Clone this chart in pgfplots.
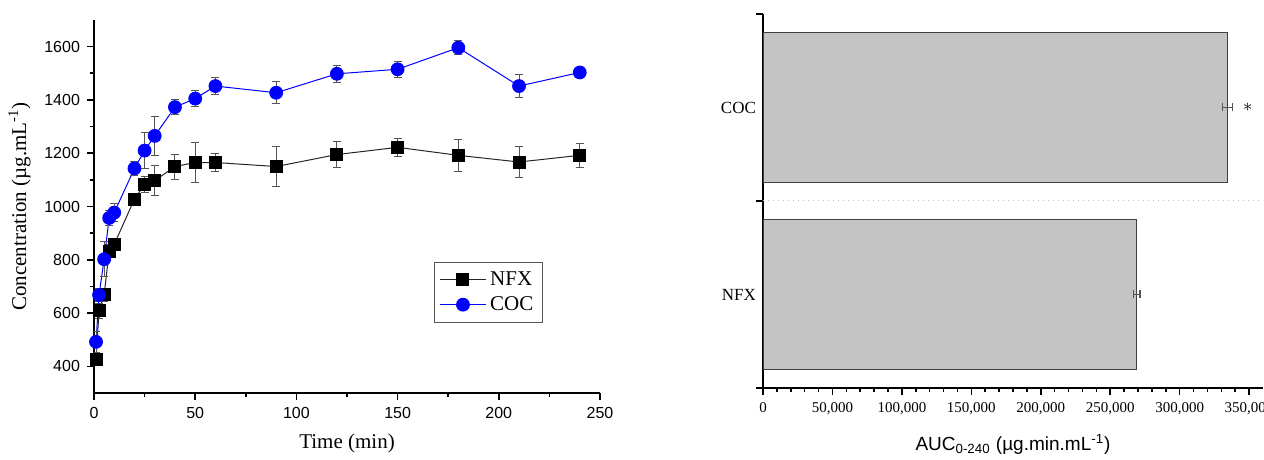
\documentclass[border=0pt]{standalone}
\usepackage{fontspec}
\setmainfont{Liberation Serif}
\setsansfont{Liberation Sans}
\usepackage{pgfplots}
\pgfplotsset{compat=1.18}
\definecolor{barfill}{HTML}{C4C4C4}
\definecolor{errgray}{HTML}{555555}
\definecolor{coc}{HTML}{0000FF}

\begin{document}
\begin{tikzpicture}
  \path[use as bounding box] (0,0) rectangle (632pt,230pt);
  % left: concentration vs time
  \begin{axis}[
      at={(47pt,33.5pt)}, anchor=south west,
      width=253pt, height=186.5pt, scale only axis,
      axis lines*=left,
      axis line style={line width=0.9pt},
      xmin=0, xmax=250, ymin=300, ymax=1700,
      xtick={0,50,...,250}, ytick={400,600,...,1600},
      minor x tick num=1, minor y tick num=1,
      tick align=outside,
      major tick length=3.5pt, minor tick length=2.2pt,
      every tick/.style={black, line width=0.8pt},
      tick label style={font=\fontsize{8}{9}\selectfont\sffamily},
      /pgf/number format/assume math mode=true,
      /pgf/number format/set thousands separator={},
      xlabel={Time (min)},
      ylabel={Concentration (µg.mL\textsuperscript{-1})},
      label style={font=\fontsize{10.5}{12}\selectfont},
      xlabel style={yshift=-1pt},
      legend style={at={(rel axis cs:0.887,0.351)}, anchor=north east,
        draw=errgray, font=\fontsize{10.5}{12}\selectfont,
        row sep=0pt, inner sep=2.5pt},
      legend cell align=left,
      legend image code/.code={\draw[mark repeat=2,mark phase=2]
        plot coordinates {(0cm,0cm) (0.4cm,0cm) (0.8cm,0cm)};},
      error bars/error bar style={errgray, line width=0.5pt},
      error bars/error mark options={rotate=90, errgray, mark size=2pt, line width=0.5pt},
    ]
    \addplot[black!85, line width=0.5pt, mark=square*,
        mark options={black, mark size=3pt},
        error bars/.cd, y dir=both, y explicit]
      coordinates {
        (1,425) +- (0,20)
        (2.5,608) +- (0,28)
        (5,668) +- (0,25)
        (7.5,832) +- (0,25)
        (10,858) +- (0,20)
        (20,1028) +- (0,22)
        (25,1083) +- (0,30)
        (30,1097) +- (0,57)
        (40,1150) +- (0,47)
        (50,1165) +- (0,74)
        (60,1165) +- (0,33)
        (90,1150) +- (0,75)
        (120,1195) +- (0,48)
        (150,1222) +- (0,34)
        (180,1192) +- (0,60)
        (210,1167) +- (0,57)
        (240,1192) +- (0,46)
      };
    \addlegendentry{NFX}
    \addplot[coc, line width=0.5pt, mark=*,
        mark options={coc, mark size=3.2pt},
        error bars/.cd, y dir=both, y explicit]
      coordinates {
        (1,492) +- (0,40)
        (2.5,668) +- (0,25)
        (5,802) +- (0,65)
        (7.5,957) +- (0,27)
        (10,977) +- (0,33)
        (20,1143) +- (0,26)
        (25,1210) +- (0,67)
        (30,1265) +- (0,72)
        (40,1373) +- (0,29)
        (50,1405) +- (0,30)
        (60,1452) +- (0,33)
        (90,1427) +- (0,42)
        (120,1498) +- (0,31)
        (150,1515) +- (0,29)
        (180,1596) +- (0,27)
        (210,1452) +- (0,42)
        (240,1503) +- (0,16)
      };
    \addlegendentry{COC}
  \end{axis}

  % right: AUC bars
  \begin{axis}[
      at={(381.5pt,36pt)}, anchor=south west,
      width=250pt, height=187pt, scale only axis,
      axis lines*=left,
      axis line style={line width=0.9pt},
      xmin=0, xmax=360000, ymin=-0.5, ymax=1.5,
      xtick={0,50000,...,350000}, minor x tick num=4,
      ytick={-0.5,0.5,1.5}, yticklabels={},
      extra y ticks={0,1}, extra y tick labels={NFX,COC},
      extra y tick style={major tick length=0pt},
      tick align=outside,
      major tick length=3.5pt, minor tick length=2.2pt,
      every tick/.style={black, line width=0.8pt},
      scaled x ticks=false,
      x tick label style={/pgf/number format/.cd, fixed, 1000 sep={,}},
      tick label style={font=\fontsize{7.5}{9}\selectfont},
      /pgf/number format/assume math mode=true,
      yticklabel style={font=\fontsize{8.5}{10}\selectfont},
      xlabel={AUC\textsubscript{0-240} (µg.min.mL\textsuperscript{-1})},
      xlabel style={font=\fontsize{9.5}{11}\selectfont\sffamily, yshift=-3pt},
    ]
    \draw[black!25, dotted, line width=0.5pt]
      (axis cs:0,0.5) -- (axis cs:360000,0.5);
    \addplot[xbar, bar width=75pt, fill=barfill, draw=black!75,
        line width=0.7pt,
        error bars/.cd, x dir=both, x explicit,
        error bar style={errgray, line width=0.6pt},
        error mark options={rotate=90, errgray, mark size=2pt, line width=0.6pt}]
      coordinates {
        (269000,0) +- (2500,0)
        (334500,1) +- (3500,0)
      };
    \node[font=\fontsize{9}{10}\selectfont] at (axis cs:349000,1) {$\ast$};
  \end{axis}
\end{tikzpicture}
\end{document}
